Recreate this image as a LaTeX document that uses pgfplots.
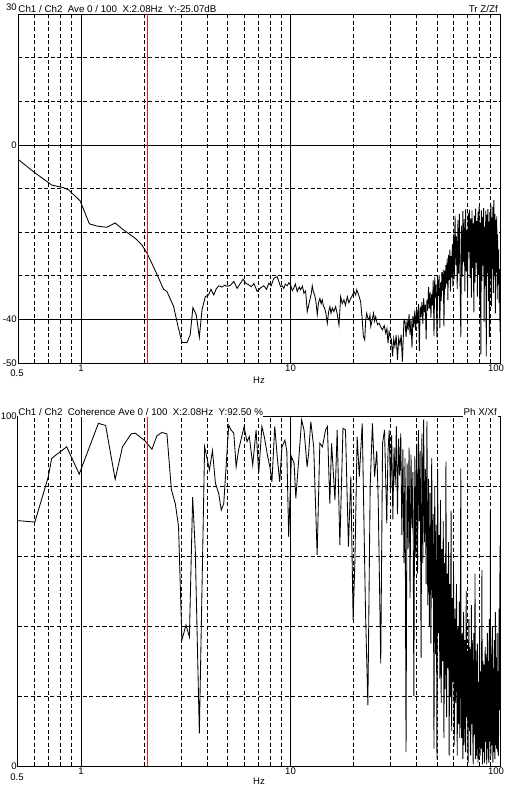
\documentclass[border=0pt]{standalone}
\usepackage{fontspec}
\setmainfont{Liberation Sans}
\usepackage{pgfplots}
\pgfplotsset{compat=1.18}
\definecolor{cursorred}{RGB}{225,30,30}

\pgfplotstableread{
f db
0.5 -3.3
0.591 -6.1
0.724 -9.2
0.823 -9.8
0.870 -10.3
0.989 -12.8
1.096 -18.1
1.188 -18.6
1.327 -18.9
1.455 -17.9
1.594 -19.5
1.813 -21.4
1.95 -22.9
2.062 -24.8
2.18 -27.2
2.30 -29.6
2.476 -33.1
2.57 -33.6
2.765 -37.0
2.90 -41.5
3.031 -45.3
3.204 -45.3
3.32 -43.5
3.42 -37.3
3.55 -39.0
3.67 -44.1
3.78 -37.8
3.92 -34.8
4.06 -34.4
4.17 -33.1
4.30 -34.4
4.42 -33.0
4.54 -32.3
4.70 -32.6
4.85 -32.2
5.0 -32.4
5.16 -32.2
5.36 -31.3
5.56 -32.9
5.75 -31.8
5.94 -30.8
6.12 -31.7
6.32 -32.1
6.50 -32.5
6.69 -31.8
6.93 -33.6
7.19 -32.8
7.45 -32.3
7.68 -33.1
7.88 -31.7
8.08 -32.3
8.32 -30.6
8.64 -30.2
8.79 -31.3
8.96 -32.5
9.12 -32.3
9.29 -32.9
9.45 -31.9
9.64 -32.3
9.82 -31.6
10.0 -32.1
10.2 -33.4
10.37 -32.8
10.55 -31.9
10.76 -33.6
11.0 -32.6
11.16 -33.2
11.4 -32.4
11.58 -34.0
11.8 -33.5
12.02 -38.2
12.2 -36.8
12.37 -35.5
12.55 -34.2
12.70 -32.3
12.85 -33.6
13.03 -34.4
13.2 -35.6
13.42 -38.9
13.6 -36.2
13.81 -35.2
14.0 -36.4
14.17 -35.5
14.35 -36.9
14.54 -37.4
14.75 -38.6
14.98 -40.9
15.2 -38.3
15.42 -37.1
15.6 -38.6
15.83 -37.4
16.1 -38.2
16.42 -37.1
16.7 -38.7
17.03 -41.3
17.2 -38.0
17.35 -34.8
17.65 -36.4
17.99 -35.5
18.3 -36.8
18.67 -34.8
19.0 -36.2
19.37 -35.2
19.7 -34.6
20.09 -33.6
20.46 -34.4
20.7 -33.2
21.0 -34.0
21.3 -34.9
21.6 -35.9
21.95 -39.5
22.27 -43.9
22.6 -44.7
22.85 -40.2
23.1 -38.6
23.4 -39.7
23.7 -40.1
23.95 -39.0
24.15 -41.6
24.5 -40.3
24.9 -38.6
25.2 -40.4
25.5 -39.4
26.0 -41.2
26.5 -40.9
27.0 -41.8
27.45 -42.4
28.0 -41.4
28.5 -43.2
28.85 -42.1
29.2 -45.5
29.55 -42.8
29.9 -43.9
30.3 -44.6
30.7 -48.5
31.1 -44.4
31.5 -46.2
31.95 -43.6
32.4 -49.3
32.85 -44.3
33.3 -45.8
33.75 -43.5
34.2 -49.7
34.8 -40.1
35.2 -40.5
35.6 -44.0
36.0 -40.2
36.4 -42.5
36.8 -38.8
37.2 -43.6
37.6 -40.0
38.0 -46.5
38.4 -39.2
38.8 -41.8
39.2 -38.0
39.6 -42.6
40.0 -37.8
40.4 -40.9
40.8 -36.5
41.2 -47.2
41.6 -37.0
42.0 -39.5
42.4 -36.0
42.8 -41.0
43.2 -35.2
43.6 -38.4
44.0 -36.6
44.4 -44.5
44.8 -35.5
45.2 -38.0
45.6 -32.6
46.0 -37.5
46.4 -33.8
46.8 -39.6
47.2 -34.2
47.6 -36.8
48.0 -31.0
48.4 -43.8
48.8 -30.3
49.2 -35.0
49.6 -32.0
50.0 -44.2
50.4 -30.8
50.8 -34.6
51.2 -29.9
51.6 -42.0
52.0 -31.5
52.4 -35.8
52.8 -29.2
53.2 -33.4
53.6 -28.6
54.0 -41.6
54.4 -28.8
54.8 -33.0
55.2 -27.5
55.6 -31.8
56.0 -26.0
56.4 -35.5
56.8 -25.2
57.2 -31.0
57.6 -24.0
58.0 -33.6
58.4 -25.5
58.8 -30.4
59.2 -22.8
59.6 -32.5
60.0 -20.5
60.5 -30.8
61.0 -16.2
61.5 -27.5
62.0 -21.0
62.5 -33.0
63.0 -17.2
63.5 -29.5
64.0 -15.8
64.5 -31.0
65.0 -44.0
65.5 -18.5
66.0 -30.2
66.5 -15.2
67.0 -26.8
67.5 -17.0
68.0 -33.6
68.5 -14.8
69.0 -29.0
69.5 -19.5
70.0 -34.2
70.5 -15.6
71.0 -24.5
71.5 -14.9
72.0 -30.5
72.5 -16.8
73.0 -35.0
73.5 -15.0
74.0 -28.2
74.5 -18.0
75.0 -38.4
75.5 -16.2
76.0 -31.6
76.5 -14.6
77.0 -27.0
77.5 -17.5
78.0 -34.8
78.5 -15.3
79.0 -29.8
79.5 -14.2
80.0 -36.5
80.5 -17.8
81.0 -48.0
81.5 -15.0
82.0 -31.2
82.5 -16.5
83.0 -27.6
83.5 -14.5
84.0 -40.5
84.5 -18.8
85.0 -32.4
85.5 -15.1
86.0 -48.5
86.5 -16.0
87.0 -29.4
87.5 -14.7
88.0 -35.8
88.5 -17.6
89.0 -44.0
89.5 -15.4
90.0 -30.6
90.5 -13.8
91.0 -37.0
91.5 -16.6
92.0 -28.4
92.5 -14.2
93.0 -33.9
93.5 -12.6
94.0 -30.0
94.5 -15.8
95.0 -38.6
95.5 -17.2
96.0 -29.2
96.5 -16.4
97.0 -35.4
97.5 -20.5
98.0 -32.0
98.5 -24.0
99.0 -36.2
99.5 -28.5
100.0 -43.0
}\magtable

\pgfplotstableread{
f coh
0.5 70.1
0.602 69.7
0.698 82.7
0.724 87.9
0.854 91.2
0.98 83.4
1.21 97.9
1.31 97.3
1.455 81.9
1.577 91.2
1.735 94.9
1.813 95.1
2.02 92.9
2.18 90.5
2.30 94.3
2.43 95.3
2.57 94.9
2.70 78.9
2.82 74.9
2.92 68.4
3.03 36.0
3.17 40.3
3.29 36.9
3.41 76.8
3.51 61.7
3.67 9.3
3.89 91.2
4.10 84.6
4.24 90.1
4.38 80.8
4.54 77.9
4.67 73.1
4.80 75.0
5.07 97.4
5.20 96.0
5.36 95.1
5.50 85.5
5.65 90.3
6.0 96.9
6.2 92.7
6.36 94.1
6.6 86.0
6.85 96.0
7.05 83.6
7.3 97.0
7.5 94.0
7.75 89.0
8.02 84.6
8.15 81.2
8.41 97.0
8.65 88.0
8.88 81.2
9.1 91.2
9.4 93.1
9.6 90.0
9.8 65.5
10.1 88.4
10.4 86.5
10.6 76.5
11.0 89.3
11.3 98.9
11.6 96.0
12.0 85.5
12.2 89.3
12.5 98.4
12.9 91.2
13.4 60.3
13.8 92.2
14.2 91.2
14.7 96.0
15.0 97.0
15.4 75.0
15.7 92.2
16.3 76.0
16.7 96.0
17.2 63.1
17.8 96.5
18.3 96.0
18.9 62.7
19.4 82.7
19.9 41.7
20.3 58.9
20.8 94.1
21.3 82.7
22.0 97.9
22.8 44.1
23.4 17.4
24.0 79.8
24.6 97.9
25.2 82.7
25.8 90.0
26.2 76.9
26.96 29.3
27.5 92.2
28.1 96.0
28.8 69.3
29.2 90.0
29.6 96.0
30.0 78.0
30.4 94.5
30.8 70.5
31.2 91.0
31.6 80.2
32.0 97.0
32.4 72.0
32.8 93.5
33.2 83.0
33.6 95.0
34.0 66.0
34.4 90.5
34.8 58.0
35.2 88.0
35.6 4.0
36.0 86.5
36.4 62.0
36.8 91.0
37.2 48.0
37.6 89.0
38.0 68.0
38.4 84.0
38.8 20.0
39.2 88.5
39.6 60.0
40.0 92.0
40.4 55.0
40.8 96.0
41.2 70.0
41.6 90.0
42.0 31.0
42.4 95.0
42.8 58.0
43.2 99.0
43.6 64.0
44.0 85.0
44.4 52.0
44.8 98.5
45.2 46.0
45.6 82.0
46.0 40.0
46.4 78.0
46.8 35.0
47.2 88.0
47.6 48.0
48.0 72.0
48.4 5.0
48.8 80.0
49.2 32.0
49.6 69.0
50.0 2.0
50.4 85.0
50.8 38.0
51.2 66.0
51.6 25.0
52.0 76.0
52.4 18.0
52.8 62.0
53.2 30.0
53.6 70.0
54.0 8.0
54.4 58.0
54.8 22.0
55.2 87.0
55.6 14.0
56.0 55.0
56.4 28.0
56.8 64.0
57.2 3.0
57.6 52.0
58.0 20.0
58.4 73.0
58.8 10.0
59.2 48.0
59.6 24.0
60.0 58.0
60.25 30.0
60.5 6.0
60.75 35.0
61.0 45.0
61.25 20.0
61.5 18.0
61.75 40.0
62.0 52.0
62.25 25.0
62.5 3.0
62.75 30.0
63.0 40.0
63.25 16.0
63.5 12.0
63.75 36.0
64.0 47.0
64.25 8.0
64.5 22.0
64.75 55.0
65.0 85.0
65.25 20.0
65.5 8.0
65.75 28.0
66.0 38.0
66.25 12.0
66.5 2.0
66.75 30.0
67.0 44.0
67.25 6.0
67.5 15.0
67.75 32.0
68.0 36.0
68.25 10.0
68.5 4.0
68.75 28.0
69.0 50.0
69.25 14.0
69.5 20.0
69.75 26.0
70.0 33.0
70.25 5.0
70.5 1.0
70.75 30.0
71.0 42.0
71.25 16.0
71.5 10.0
71.75 34.0
72.0 30.0
72.25 4.0
72.5 3.0
72.75 25.0
73.0 46.0
73.25 12.0
73.5 14.0
73.75 36.0
74.0 28.0
74.25 7.0
74.5 0.5
74.75 22.0
75.0 38.0
75.25 11.0
75.5 9.0
75.75 30.0
76.0 55.0
76.25 8.0
76.5 2.0
76.75 33.0
77.0 26.0
77.25 3.0
77.5 12.0
77.75 28.0
78.0 35.0
78.25 9.0
78.5 1.0
78.75 24.0
79.0 22.0
79.25 2.0
79.5 6.0
79.75 31.0
80.0 40.0
80.25 10.0
80.5 3.0
80.75 27.0
81.0 25.0
81.25 5.0
81.5 10.0
81.75 35.0
82.0 56.0
82.25 13.0
82.5 0.5
82.75 24.0
83.0 30.0
83.25 4.0
83.5 8.0
83.75 29.0
84.0 20.0
84.25 1.0
84.5 2.0
84.75 26.0
85.0 34.0
85.25 7.0
85.5 11.0
85.75 32.0
86.0 27.0
86.25 3.0
86.5 0.5
86.75 23.0
87.0 38.0
87.25 9.0
87.5 5.0
87.75 30.0
88.0 24.0
88.25 2.0
88.5 1.0
88.75 35.0
89.0 42.0
89.25 12.0
89.5 7.0
89.75 40.0
90.0 73.0
90.25 15.0
90.5 3.0
90.75 28.0
91.0 32.0
91.25 6.0
91.5 12.0
91.75 34.0
92.0 40.0
92.25 8.0
92.5 1.0
92.75 26.0
93.0 28.0
93.25 4.0
93.5 9.0
93.75 33.0
94.0 36.0
94.25 10.0
94.5 2.0
94.75 29.0
95.0 44.0
95.25 14.0
95.5 6.0
95.75 31.0
96.0 30.0
96.25 5.0
96.5 14.0
96.75 37.0
97.0 38.0
97.25 11.0
97.5 4.0
97.75 27.0
98.0 26.0
98.25 3.0
98.5 10.0
98.75 35.0
99.0 45.0
99.25 16.0
99.5 18.0
99.75 40.0
100.0 63.0
}\cohtable

\pgfplotstableread{
f y
2.08 -50
2.08 30
}\cursortop

\pgfplotstableread{
f y
2.08 0
2.08 100
}\cursorbot

\begin{document}
\begin{tikzpicture}
\path[use as bounding box] (0,0) rectangle (510bp,-791bp);

% ---- top: transfer function magnitude ----
\begin{axis}[
  scale only axis, width=482bp, height=349bp,
  at={(18bp,-14bp)}, anchor=north west,
  xmode=log, xmin=0.5, xmax=100,
  ymin=-50, ymax=30,
  axis line style={line width=1bp, black},
  xtick={1,10,100}, xticklabels={1,10,\hspace*{-8bp}100},
  minor xtick={0.6,0.7,0.8,0.9,2,3,4,5,6,7,8,9,20,30,40,50,60,70,80,90},
  ytick={-50,-40,0,30}, yticklabels={-50,-40,0,{}},
  minor ytick={-30,-20,-10,10,20},
  xmajorgrids, xminorgrids, ymajorgrids, yminorgrids,
  major grid style={black, line width=0.75bp},
  minor grid style={black, line width=0.7bp, dash pattern=on 4bp off 2.5bp},
  major tick length=0pt, minor tick length=0pt,
  tick label style={font=\fontsize{9.6}{10}\selectfont},
  xticklabel style={inner sep=1.5bp, anchor=north},
  yticklabel style={inner sep=1bp, anchor=east},
  xlabel={Hz},
  xlabel style={font=\fontsize{9.6}{10}\selectfont, at={(axis description cs:0.5,0)}, anchor=center, inner sep=0pt, yshift=-17bp},
]
\addplot[black, line width=0.85bp] table[x=f, y=db] {\magtable};
\addplot[draw=cursorred, line width=1.1bp, mark=none] table[x=f, y=y] {\cursortop};
\end{axis}
\node[anchor=north, inner sep=0pt, font=\fontsize{9.6}{10}\selectfont] at (17bp,-370bp) {0.5};
\node[anchor=east, inner sep=1bp, font=\fontsize{9.6}{10}\selectfont] at (18bp,-7bp) {30};
\node[anchor=base west, inner sep=0pt, font=\fontsize{9.8}{11}\selectfont] at (18.3bp,-12bp)
  {Ch1 / Ch2\ \ Ave 0 / 100\ \ X:2.08Hz\ \ Y:-25.07dB};
\node[anchor=base east, inner sep=0pt, font=\fontsize{9.8}{11}\selectfont] at (498bp,-12bp) {Tr Z/Zf};

% ---- bottom: coherence ----
\begin{axis}[
  scale only axis, width=482bp, height=350bp,
  at={(18bp,-416bp)}, anchor=north west,
  xmode=log, xmin=0.5, xmax=100,
  ymin=0, ymax=100,
  axis line style={line width=1bp, black},
  xtick={1,10,100}, xticklabels={1,10,\hspace*{-8bp}100},
  minor xtick={0.6,0.7,0.8,0.9,2,3,4,5,6,7,8,9,20,30,40,50,60,70,80,90},
  ytick={0,100}, yticklabels={0,100},
  minor ytick={20,40,60,80},
  xmajorgrids, xminorgrids, yminorgrids,
  major grid style={black, line width=0.75bp},
  minor grid style={black, line width=0.7bp, dash pattern=on 4bp off 2.5bp},
  major tick length=0pt, minor tick length=0pt,
  tick label style={font=\fontsize{9.6}{10}\selectfont},
  xticklabel style={inner sep=1.5bp, anchor=north},
  yticklabel style={inner sep=1bp, anchor=east},
  xlabel={Hz},
  xlabel style={font=\fontsize{9.6}{10}\selectfont, at={(axis description cs:0.5,0)}, anchor=center, inner sep=0pt, yshift=-15bp},
]
\addplot[black, line width=0.85bp] table[x=f, y=coh] {\cohtable};
\addplot[draw=cursorred, line width=1.1bp, mark=none] table[x=f, y=y] {\cursorbot};
\end{axis}
\node[anchor=north, inner sep=0pt, font=\fontsize{9.6}{10}\selectfont] at (17bp,-774bp) {0.5};
\node[anchor=base west, inner xsep=0pt, inner ysep=1.8bp, fill=white, font=\fontsize{9.8}{11}\selectfont] at (18.3bp,-415bp)
  {Ch1 / Ch2\ \ Coherence Ave 0 / 100\ \ X:2.08Hz\ \ Y:92.50 \%};
\node[anchor=base east, inner xsep=1pt, inner ysep=1.8bp, fill=white, font=\fontsize{9.8}{11}\selectfont] at (498bp,-415bp) {Ph X/Xf};
\end{tikzpicture}
\end{document}
